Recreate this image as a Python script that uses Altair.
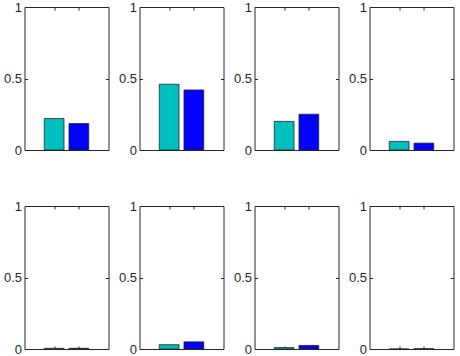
import altair as alt
import pandas as pd

panels = [1, 2, 3, 4, 5, 6, 7, 8]
cyan_vals = [0.22, 0.46, 0.20, 0.06, 0.005, 0.03, 0.01, 0.0]
blue_vals = [0.185, 0.42, 0.25, 0.048, 0.005, 0.05, 0.025, 0.002]
series = ["cyan", "blue"]
positions = [1, 2]
colors = ["#00BFBF", "#0000FF"]
y_ticks = [0, 0.5, 1]

rows = []
for p, c, b in zip(panels, cyan_vals, blue_vals):
    for s, pos, v in zip(series, positions, [c, b]):
        rows.append(dict(panel=p, series=s, lo=pos - 0.4, hi=pos + 0.4, base=0.0, value=v))
df = pd.DataFrame(rows)

W, H = 84, 143
EDGE = "#262626"


def panel(p):
    return (
        alt.Chart(df)
        .transform_filter(alt.datum.panel == p)
        .mark_bar(stroke=EDGE, strokeWidth=0.8)
        .encode(
            x=alt.X(
                "lo:Q",
                scale=alt.Scale(domain=[-0.2, 3.2], nice=False, zero=False),
                axis=alt.Axis(
                    values=positions, labels=False, ticks=False, tickSize=0,
                    domain=False, grid=True, gridDash=[3, H - 6, 3, 1000],
                    title=None,
                ),
            ),
            x2="hi:Q",
            y=alt.Y(
                "value:Q",
                scale=alt.Scale(domain=[0, 1], nice=False),
                axis=alt.Axis(
                    values=y_ticks, ticks=False, tickSize=0, domain=False,
                    grid=True, gridDash=[3, W - 6, 3, 1000], labelPadding=3,
                    title=None, format="~g",
                ),
            ),
            y2="base:Q",
            color=alt.Color("series:N", scale=alt.Scale(domain=series, range=colors), legend=None),
        )
        .properties(width=W, height=H)
    )


chart = (
    alt.concat(*[panel(p) for p in panels], columns=4,
               spacing={"row": 56, "column": 31}, bounds="flush")
    .configure_view(stroke=EDGE, strokeWidth=1)
    .configure_axis(
        labelFont="Liberation Sans", labelFontSize=13, labelColor=EDGE,
        gridColor=EDGE, gridOpacity=1, gridWidth=1,
    )
    .properties(padding={"left": 2.5, "top": 0, "right": 0, "bottom": 0})
)

chart.save("out.html", embed_options={"renderer": "svg", "actions": False})
